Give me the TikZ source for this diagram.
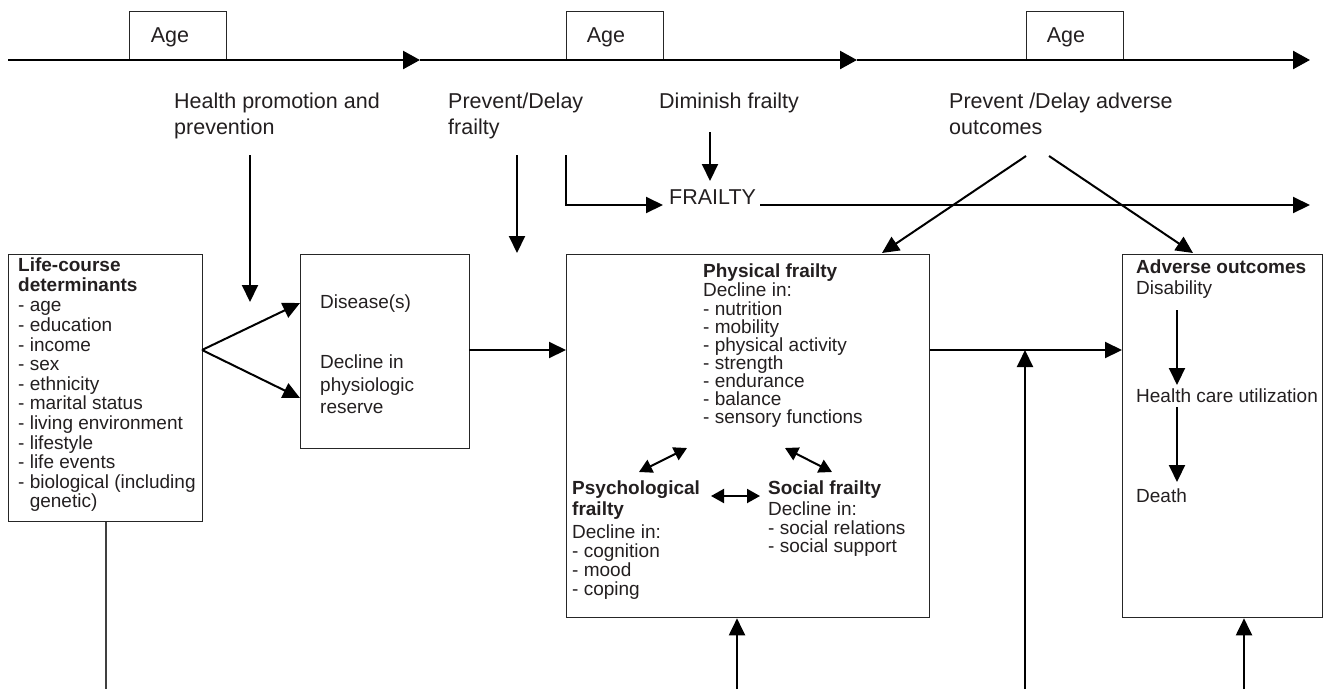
\documentclass[tikz,border=0pt]{standalone}
\usepackage{fontspec}
\setmainfont{Liberation Sans}
\usetikzlibrary{arrows.meta}
\definecolor{txt}{HTML}{231F20}
\begin{document}
\begin{tikzpicture}[x=1pt,y=-1pt,
  every node/.style={inner sep=0pt, text=txt},
  big/.style={font=\fontsize{21.5}{25.5}\selectfont, align=left, anchor=north west},
  sm/.style={font=\fontsize{19}{19.6}\selectfont, align=left, anchor=north west},
  smb/.style={font=\fontsize{19}{19.6}\selectfont\bfseries, align=left, anchor=north west},
  box/.style={draw=black!85, line width=1.3pt, anchor=north west},
  agebox/.style={draw=black!85, line width=1.3pt, anchor=north west, minimum width=97, minimum height=49},
  axis/.style={line width=2.4pt, -{Triangle[length=17pt,width=18pt]}},
  arr/.style={line width=2pt, -{Triangle[length=17pt,width=16pt]}},
  darr/.style={line width=2pt, {Triangle[length=13pt,width=14pt]}-{Triangle[length=13pt,width=14pt]}},
  thin/.style={line width=1.2pt, draw=black!75}
]
\useasboundingbox (0,0) rectangle (1335,689);

% top axis
\coordinate (a0) at (8,60);
\coordinate (a1) at (420,60);
\coordinate (a2) at (857,60);
\coordinate (a3) at (1310,60);
\node[agebox] (age1) at (129,11) {};
\node[agebox] (age2) at (566,11) {};
\node[agebox] (age3) at (1026,11) {};
\node[font=\fontsize{21.5}{25}\selectfont] (age1t) at (170,37) {Age};
\node[font=\fontsize{21.5}{25}\selectfont] (age2t) at (606,37) {Age};
\node[font=\fontsize{21.5}{25}\selectfont] (age3t) at (1066,37) {Age};
\draw[axis] (a0) -- (a1);
\draw[axis] (a1) -- (a2);
\draw[axis] (a2) -- (a3);

% interventions
\node[big] (hp) at (174,93) {Health promotion and\\prevention};
\node[big] (pd) at (448,93) {Prevent/Delay\\frailty};
\node[big] (df) at (659,93) {Diminish frailty};
\node[big] (pa) at (949,93) {Prevent /Delay adverse\\outcomes};
\node[font=\fontsize{21.5}{25}\selectfont, anchor=west] (fr) at (669,197) {FRAILTY};

% boxes
\node[box, minimum width=194, minimum height=267] (life) at (8,254) {};
\node[box, minimum width=169, minimum height=194] (dis) at (300,254) {};
\node[box, minimum width=363, minimum height=363] (phys) at (566,254) {};
\node[box, minimum width=200, minimum height=363] (adv) at (1122,254) {};

% texts in boxes
\node[smb] (lifeh) at (18,258) {Life-course\\determinants};
\node[sm] (lifel) at (18,301.5) {- age\\- education\\- income\\- sex\\- ethnicity\\- marital status\\- living environment\\- lifestyle\\- life events\\- biological (including\\\hphantom{- }genetic)};

\node[sm, anchor=west] (dist) at (320,304) {Disease(s)};
\node[sm, font=\fontsize{19}{22.5}\selectfont] (decl) at (320,355) {Decline in\\physiologic\\reserve};

\node[smb] (physh) at (703,264) {Physical frailty};
\node[sm, font=\fontsize{19}{18.1}\selectfont] (physl) at (703,283) {Decline in:\\- nutrition\\- mobility\\- physical activity\\- strength\\- endurance\\- balance\\- sensory functions};

\node[smb, font=\fontsize{19}{21}\selectfont\bfseries] (psyh) at (572,481) {Psychological\\frailty};
\node[sm, font=\fontsize{19}{18.7}\selectfont] (psyl) at (572,525) {Decline in:\\- cognition\\- mood\\- coping};

\node[smb] (soch) at (768,481) {Social frailty};
\node[sm, font=\fontsize{19}{18.5}\selectfont] (socl) at (768,502) {Decline in:\\- social relations\\- social support};

\node[smb, anchor=west] (advh) at (1136,267) {Adverse outcomes};
\node[sm, anchor=west] (disab) at (1136,290) {Disability};
\node[sm, anchor=west] (hcu) at (1136,396) {Health care utilization};
\node[sm, anchor=west] (death) at (1136,496) {Death};

% connectors from interventions
\coordinate (hpA) at (250,155);
\coordinate (hpB) at (250,302);
\draw[arr] (hpA) -- (hpB);
\coordinate (pdA) at (517,155);
\coordinate (pdB) at (517,253);
\draw[arr] (pdA) -- (pdB);
\coordinate (pdC) at (566,155);
\coordinate (frW) at (663,205);
\draw[arr] (pdC) |- (frW);
\coordinate (frS) at (760,205);
\coordinate (frE) at (1310,205);
\draw[arr] (frS) -- (frE);
\coordinate (dfA) at (710,132);
\coordinate (dfB) at (710,181);
\draw[arr] (dfA) -- (dfB);
\coordinate (paL) at (1026,156);
\coordinate (paR) at (1049,156);
\draw[arr] (paL) -- (882,253);
\draw[arr] (paR) -- (1193,253);

% main flow
\coordinate (lifeO) at (202,350);
\draw[arr] (lifeO) -- (300,303);
\draw[arr] (lifeO) -- (300,398);
\draw[arr] (469,350) -- (phys.west |- 0,350);
\draw[arr] (phys.east |- 0,350) -- (adv.west |- 0,350);
\coordinate (b1) at (1025,689);
\draw[arr] (b1) -- (1025,350);
\coordinate (b2) at (737,689);
\draw[arr] (b2) -- (phys.south -| b2);
\coordinate (b3) at (1244,689);
\draw[arr] (b3) -- (adv.south -| b3);
\coordinate (b0) at (106,689);
\draw[thin] (life.south -| b0) -- (b0);

% inside adverse
\draw[arr] (1177,310) -- (1177,385);
\draw[arr] (1177,407) -- (1177,482);

% inside physical
\draw[darr] (639,472) -- (687,448);
\draw[darr] (785,448) -- (832,472);
\draw[darr] (711,496) -- (760,496);
\end{tikzpicture}
\end{document}
